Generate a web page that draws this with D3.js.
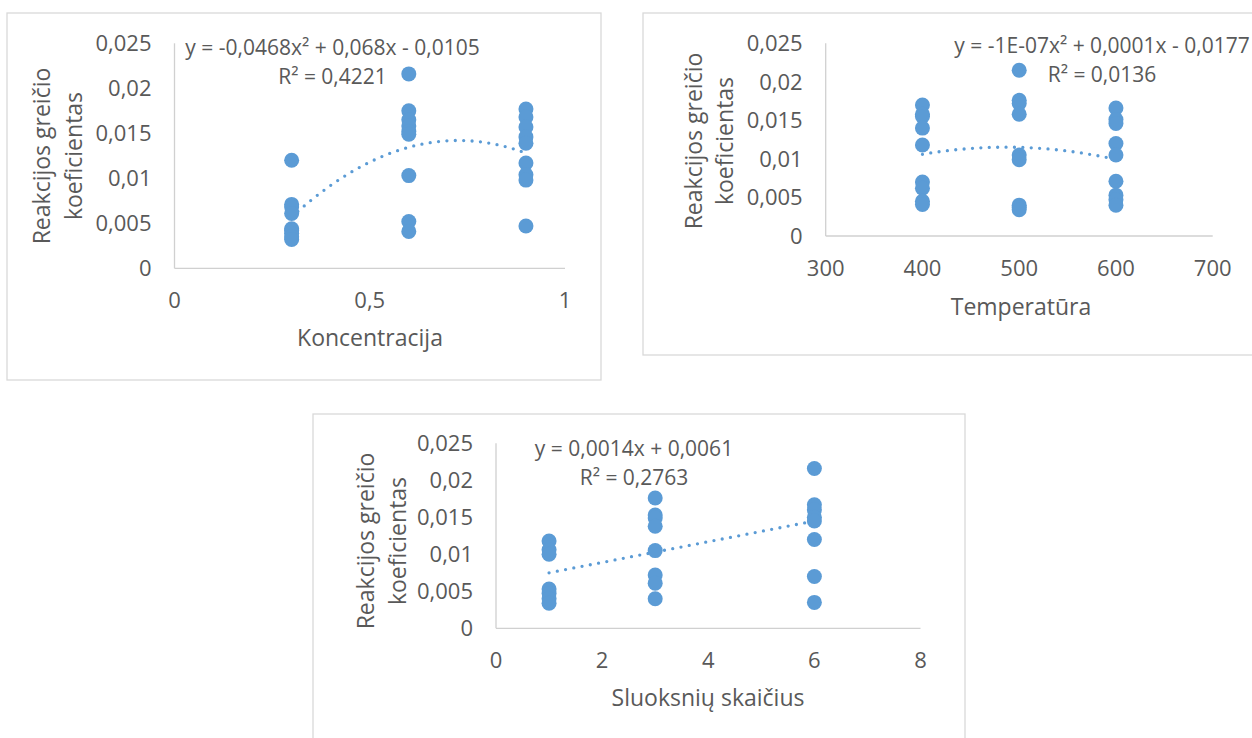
<!DOCTYPE html>
<html>
<head>
<meta charset="utf-8">
<script src="https://cdn.jsdelivr.net/npm/d3@7"></script>
<style>
  body { margin: 0; background: #fff; }
  svg { display: block; }
  text { font-family: "Open Sans", sans-serif; fill: #595959; }
</style>
</head>
<body>
<svg id="chart" width="1252" height="738"></svg>
<script>
// ---- shared y axis: reaction rate coefficient ----
const kTicks = [0, 0.005, 0.01, 0.015, 0.02, 0.025];
const yTitleLines = ["Reakcijos greičio", "koeficientas"];

// ---- panel 1: concentration ----
const concentration = [0.3, 0.6, 0.9];
const kByConcentration = [
  [0.0120, 0.0071, 0.0068, 0.0061, 0.0044, 0.0042, 0.0039, 0.0035, 0.0032],
  [0.0216, 0.0175, 0.0165, 0.0158, 0.0152, 0.0149, 0.0103, 0.0052, 0.0041],
  [0.0177, 0.0168, 0.0157, 0.0146, 0.0139, 0.0117, 0.0104, 0.0098, 0.0047]
];
const concTicks = [0, 0.5, 1];
const concFit = [-0.0468, 0.068, -0.0105];           // a·x² + b·x + c
const concFitText = ["y = -0,0468x² + 0,068x - 0,0105", "R² = 0,4221"];

// ---- panel 2: temperature ----
const temperature = [400, 500, 600];
const kByTemperature = [
  [0.0170, 0.0158, 0.0155, 0.0140, 0.0118, 0.0070, 0.0062, 0.0045, 0.0041],
  [0.0215, 0.0176, 0.0172, 0.0158, 0.0105, 0.0099, 0.0040, 0.0037, 0.0034],
  [0.0166, 0.0151, 0.0146, 0.0120, 0.0105, 0.0071, 0.0053, 0.0047, 0.0040]
];
const tempTicks = [300, 400, 500, 600, 700];
const tempFit = [-1.235e-7, 1.2015e-4, -0.0177];
const tempFitText = ["y = -1E-07x² + 0,0001x - 0,0177", "R² = 0,0136"];

// ---- panel 3: number of layers ----
const layers = [1, 3, 6];
const kByLayers = [
  [0.0118, 0.0106, 0.0100, 0.0053, 0.0047, 0.0040, 0.0034],
  [0.0176, 0.0153, 0.0149, 0.0138, 0.0105, 0.0072, 0.0061, 0.0040],
  [0.0216, 0.0167, 0.0160, 0.0150, 0.0145, 0.0120, 0.0070, 0.0035]
];
const layerTicks = [0, 2, 4, 6, 8];
const layerFit = [0, 0.0014, 0.0061];
const layerFitText = ["y = 0,0014x + 0,0061", "R² = 0,2763"];

// Lithuanian number format (decimal comma)
const lt = d3.formatLocale({ decimal: ",", thousands: " ", grouping: [3], currency: ["", " €"] });
const fmt = lt.format("~g");

const COLOR = "#5B9BD5";
const svg = d3.select("#chart");

function drawPanel(p) {
  const g = svg.append("g");

  // chart frame
  g.append("rect")
    .attr("x", p.frame[0]).attr("y", p.frame[1])
    .attr("width", p.frame[2]).attr("height", p.frame[3])
    .attr("fill", "#fff").attr("stroke", "#d9d9d9").attr("stroke-width", 1.3);

  const x = d3.scaleLinear().domain(d3.extent(p.xTicks)).range(p.xRange);
  const y = d3.scaleLinear().domain(d3.extent(kTicks)).range(p.yRange);

  // axis lines
  g.append("line")
    .attr("x1", x.range()[0]).attr("x2", x.range()[1])
    .attr("y1", y(0)).attr("y2", y(0))
    .attr("stroke", "#d0d0d0").attr("stroke-width", 1.3);
  g.append("line")
    .attr("x1", x.range()[0]).attr("x2", x.range()[0])
    .attr("y1", y(0)).attr("y2", y.range()[1])
    .attr("stroke", "#d0d0d0").attr("stroke-width", 1.3);

  // tick labels
  g.selectAll(".ytick").data(kTicks).join("text")
    .attr("x", x.range()[0] - 23)
    .attr("y", d => y(d)).attr("dy", "0.36em")
    .attr("text-anchor", "end").attr("font-size", 22)
    .text(fmt);
  g.selectAll(".xtick").data(p.xTicks).join("text")
    .attr("x", d => x(d))
    .attr("y", y(0) + 32).attr("dy", "0.36em")
    .attr("text-anchor", "middle").attr("font-size", 22)
    .text(fmt);

  // axis titles
  g.append("text")
    .attr("x", p.xTitlePos[0]).attr("y", p.xTitlePos[1]).attr("dy", "0.36em")
    .attr("text-anchor", "middle").attr("font-size", 23)
    .text(p.xTitle);
  yTitleLines.forEach((line, i) => {
    g.append("text")
      .attr("transform", `translate(${p.yTitleX[i]},${p.yTitleY}) rotate(-90)`)
      .attr("dy", "0.36em")
      .attr("text-anchor", "middle").attr("font-size", 23)
      .text(line);
  });

  // trendline, evaluated over the span of the measured levels
  const [a, b, c] = p.fit;
  const lo = d3.min(p.levels), hi = d3.max(p.levels);
  const xs = d3.range(0, 101).map(i => lo + (hi - lo) * i / 100);
  g.append("path")
    .datum(xs)
    .attr("d", d3.line().x(d => x(d)).y(d => y(a * d * d + b * d + c)))
    .attr("fill", "none").attr("stroke", COLOR)
    .attr("stroke-width", 3.3).attr("stroke-linecap", "round")
    .attr("stroke-dasharray", "0 8.4");

  // measured points
  const pts = p.levels.flatMap((lv, i) => p.values[i].map(v => ({ x: lv, k: v })));
  g.selectAll(".pt").data(pts).join("circle")
    .attr("cx", d => x(d.x)).attr("cy", d => y(d.k))
    .attr("r", 7.5).attr("fill", COLOR);

  // trendline equation and R²
  p.fitText.forEach((t, i) => {
    g.append("text")
      .attr("x", p.fitPos[0]).attr("y", p.fitPos[1] + i * 29.5).attr("dy", "0.36em")
      .attr("text-anchor", "middle").attr("font-size", 21)
      .text(t);
  });
}

drawPanel({
  levels: concentration, values: kByConcentration, xTicks: concTicks,
  fit: concFit, fitText: concFitText, xTitle: "Koncentracija",
  frame: [7, 13, 594, 367],
  xRange: [174.5, 565], yRange: [268.3, 43.3],
  xTitlePos: [370, 338], yTitleX: [41.7, 73.3], yTitleY: 156,
  fitPos: [332.5, 47]
});

drawPanel({
  levels: temperature, values: kByTemperature, xTicks: tempTicks,
  fit: tempFit, fitText: tempFitText, xTitle: "Temperatūra",
  frame: [643, 13, 640, 342],
  xRange: [825.7, 1212.7], yRange: [236, 43.3],
  xTitlePos: [1021, 306.7], yTitleX: [693.5, 725], yTitleY: 141,
  fitPos: [1102, 45]
});

drawPanel({
  levels: layers, values: kByLayers, xTicks: layerTicks,
  fit: layerFit, fitText: layerFitText, xTitle: "Sluoksnių skaičius",
  frame: [313, 414, 652, 400],
  xRange: [496, 920.5], yRange: [628.3, 443.3],
  xTitlePos: [708, 698], yTitleX: [366, 398], yTitleY: 541,
  fitPos: [634, 448]
});
</script>
</body>
</html>
